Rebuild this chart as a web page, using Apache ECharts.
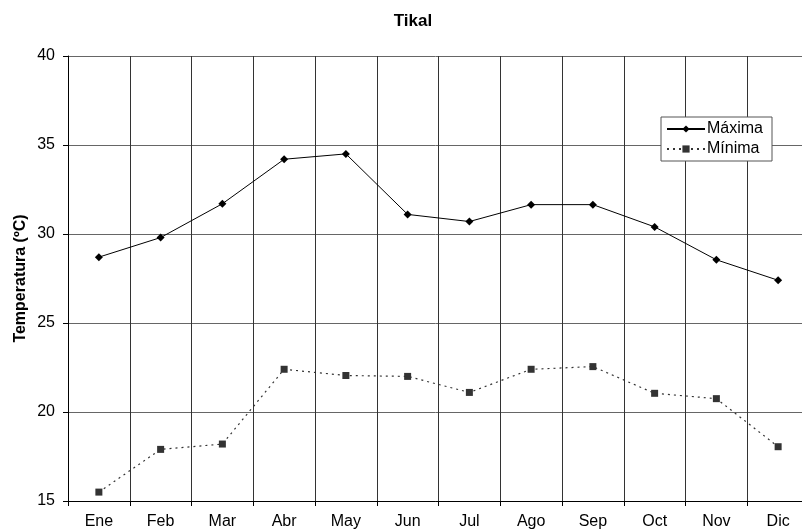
<!DOCTYPE html>
<html>
<head>
<meta charset="utf-8">
<script src="https://cdn.jsdelivr.net/npm/echarts@6/dist/echarts.min.js"></script>
<style>
  html, body { margin: 0; padding: 0; background: #fff; }
  #chart { width: 802px; height: 531px; }
</style>
</head>
<body>
<div id="chart"></div>
<script>
// Monthly temperatures at Tikal (°C)
const months = ['Ene', 'Feb', 'Mar', 'Abr', 'May', 'Jun', 'Jul', 'Ago', 'Sep', 'Oct', 'Nov', 'Dic'];
const maxima = [28.7, 29.8, 31.7, 34.2, 34.5, 31.1, 30.7, 31.65, 31.65, 30.4, 28.55, 27.4];
const minima = [15.5, 17.9, 18.2, 22.4, 22.05, 22.0, 21.1, 22.4, 22.55, 21.05, 20.75, 18.05];
const yTicks = { min: 15, max: 40, interval: 5 };

const font = 'Liberation Sans, Arial, sans-serif';
const chart = echarts.init(document.getElementById('chart'), null, { renderer: 'canvas' });

chart.setOption({
  backgroundColor: '#fff',
  animation: false,
  title: {
    text: 'Tikal',
    left: 408,
    top: 8,
    textAlign: 'center',
    textStyle: { fontFamily: font, fontSize: 17, fontWeight: 'bold', color: '#000' }
  },
  legend: {
    orient: 'vertical',
    left: 661,
    top: 117,
    padding: [4, 9, 4, 5],
    itemGap: 4,
    itemWidth: 38,
    itemHeight: 9,
    backgroundColor: '#fff',
    borderColor: '#555',
    borderWidth: 1,
    borderRadius: 0,
    textStyle: { fontFamily: font, fontSize: 16, color: '#000', padding: [0, 0, 0, -3] },
    data: ['Máxima', 'Mínima']
  },
  // the plot runs slightly past the right edge of the canvas
  grid: {
    left: 68,
    right: -7,
    top: 56,
    bottom: 30,
    containLabel: false,
    outerBoundsMode: 'none'
  },
  xAxis: {
    type: 'category',
    data: months,
    boundaryGap: true,
    axisLine: { lineStyle: { color: '#000', width: 1 } },
    axisTick: { show: true, length: 5, lineStyle: { color: '#000' } },
    axisLabel: { fontFamily: font, fontSize: 16, color: '#000', margin: 13 },
    splitLine: { show: true, lineStyle: { color: '#333', width: 1 } }
  },
  yAxis: {
    type: 'value',
    min: yTicks.min,
    max: yTicks.max,
    interval: yTicks.interval,
    name: 'Temperatura (ºC)',
    nameLocation: 'middle',
    nameGap: 39,
    nameMoveOverlap: false,
    nameTextStyle: { fontFamily: font, fontSize: 16, fontWeight: 'bold', color: '#000' },
    axisLine: { show: true, lineStyle: { color: '#000', width: 1 } },
    axisTick: { show: true, length: 5, lineStyle: { color: '#000' } },
    axisLabel: { fontFamily: font, fontSize: 16, color: '#000', margin: 13 },
    splitLine: { show: true, lineStyle: { color: '#666', width: 1 } }
  },
  series: [
    {
      name: 'Máxima',
      type: 'line',
      data: maxima,
      symbol: 'diamond',
      symbolSize: 8,
      itemStyle: { color: '#000' },
      lineStyle: { color: '#000', width: 1 },
      z: 3
    },
    {
      name: 'Mínima',
      type: 'line',
      data: minima,
      symbol: 'rect',
      symbolSize: 7,
      itemStyle: { color: '#333' },
      lineStyle: { color: '#333', width: 1.2, type: [2, 4] },
      z: 2
    }
  ]
});
</script>
</body>
</html>
